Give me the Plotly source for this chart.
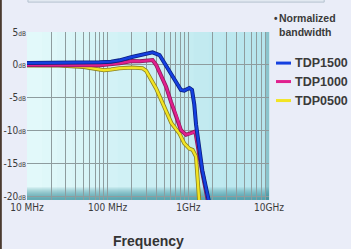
import plotly.graph_objects as go

# ---------------- data ----------------
series_names = ["TDP1500", "TDP1000", "TDP0500"]

freq_1500 = [10, 15, 25, 45, 80, 110, 140, 200, 270, 330, 360, 440, 505, 610, 705, 810, 890, 1030, 1110, 1185, 1245, 1490, 1820]
db_1500 = [0.3, 0.3, 0.3, 0.35, 0.4, 0.5, 0.7, 1.2, 1.5, 1.8, 1.9, 1.5, 0.3, -1.5, -2.8, -3.8, -3.9, -3.5, -3.8, -6.0, -9.0, -16.0, -21.0]

freq_1000 = [10, 25, 45, 80, 140, 200, 250, 330, 360, 400, 460, 530, 610, 705, 810, 935, 1080, 1220, 1490, 1770]
db_1000 = [0.0, 0.0, 0.0, -0.05, 0.25, 0.6, 0.55, 0.7, 0.75, 0.0, -1.6, -3.3, -5.6, -7.6, -9.9, -10.6, -10.4, -10.1, -16.3, -21.0]

freq_0500 = [10, 25, 50, 80, 90, 110, 140, 200, 270, 300, 330, 400, 480, 555, 615, 775, 890, 1030, 1130, 1245, 1300, 1370]
db_0500 = [-0.1, -0.1, -0.3, -0.7, -0.8, -0.7, -0.5, -0.4, -0.5, -0.9, -1.8, -3.6, -5.8, -7.6, -8.8, -10.4, -11.9, -12.7, -12.9, -13.9, -16.9, -21.0]

x_tick_vals = [10, 100, 1000, 10000]
x_tick_text = ["10 MHz", "100 MHz", "1GHz", "10GHz"]
x_minor_vals = [m * d for d in (10, 100, 1000) for m in range(2, 10)]
y_tick_vals = [5, 0, -5, -10, -15, -20]
y_tick_num = ["5", "0", "-5", "-10", "-15", "-20"]

legend_title = "Normalized<br>bandwidth"
x_title = "Frequency"

# ---------------- styling ----------------
colors = ["#1540e0", "#e0208e", "#f2e424"]
edge_colors = ["#0a1f80", "#8a1a5a", "#8a8020"]
label_font = "Liberation Sans Narrow, DejaVu Sans Condensed, Arial Narrow, sans-serif"
bold_font = "Liberation Sans, Arial, Helvetica, sans-serif"

fig = go.Figure()

data = [(freq_0500, db_0500, 2), (freq_1000, db_1000, 1), (freq_1500, db_1500, 0)]
for fx, fy, i in data:
    fig.add_trace(go.Scatter(x=fx, y=fy, mode="lines", name=series_names[i],
                             line=dict(color=edge_colors[i], width=4),
                             showlegend=False, hoverinfo="skip"))
    fig.add_trace(go.Scatter(x=fx, y=fy, mode="lines", name=series_names[i],
                             line=dict(color=colors[i], width=2.4),
                             showlegend=False))

shapes = []
# horizontal gradient of plot background
n = 16
c0 = (226, 249, 250)
c1 = (182, 229, 237)
for k in range(n):
    t = k / (n - 1)
    c = tuple(round(c0[j] + (c1[j] - c0[j]) * t) for j in range(3))
    shapes.append(dict(type="rect", xref="x domain", yref="y domain",
                       x0=k / n, x1=(k + 1) / n + 0.002, y0=0, y1=1,
                       fillcolor="rgb(%d,%d,%d)" % c, line_width=0, layer="below"))
# darker bottom band
for k in range(6):
    shapes.append(dict(type="rect", xref="x domain", yref="y domain",
                       x0=0, x1=1, y0=0, y1=0.075 - k * 0.012,
                       fillcolor="rgba(40,130,140,0.16)", line_width=0, layer="below"))
# darker right edge
shapes.append(dict(type="rect", xref="x domain", yref="y domain",
                   x0=0.984, x1=1, y0=0, y1=1,
                   fillcolor="rgba(40,120,130,0.30)", line_width=0, layer="below"))
# top panel edge
shapes.append(dict(type="rect", xref="paper", yref="paper",
                   x0=0.004, x1=1.228, y0=1.178, y1=1.25,
                   fillcolor="#e2e9f1", line=dict(color="#b4c2cf", width=1)))
# dark left border strip of the picture
shapes.append(dict(type="rect", xref="paper", yref="paper",
                   x0=-0.112, x1=-0.104, y0=-0.3, y1=1.25,
                   fillcolor="#4a3a30", line_width=0))

annotations = []
# legend (manual, short swatches)
legend_y = [0.815, 0.705, 0.592]
for i, name in enumerate(series_names):
    shapes.append(dict(type="line", xref="paper", yref="paper",
                       x0=1.029, x1=1.091, y0=legend_y[i], y1=legend_y[i],
                       line=dict(color=colors[i], width=3)))
    annotations.append(dict(text="<b>%s</b>" % name, xref="paper", yref="paper",
                            x=1.100, y=legend_y[i], xanchor="left", yanchor="middle",
                            showarrow=False, font=dict(family=bold_font, size=12.5, color="#3a3a3a")))
annotations.append(dict(text="<b>•</b>", xref="paper", yref="paper", x=1.012, y=1.078,
                        xanchor="left", yanchor="middle", showarrow=False,
                        font=dict(family=bold_font, size=10, color="#3a3a3a")))
annotations.append(dict(text="<b>%s</b>" % legend_title, xref="paper", yref="paper",
                        x=1.033, y=1.04, xanchor="left", yanchor="middle", align="left",
                        showarrow=False,
                        font=dict(family=bold_font, size=10.5, color="#3a3a3a")))
annotations.append(dict(text="<b>%s</b>" % x_title, xref="paper", yref="paper",
                        x=0.5, y=-0.243, xanchor="center", yanchor="middle",
                        showarrow=False,
                        font=dict(family=bold_font, size=14, color="#333333")))

y_tick_text = ["%s<span style='font-size:6.5px'>dB</span>" % s for s in y_tick_num]

fig.update_layout(
    width=351, height=249,
    margin=dict(l=27, r=82, t=32, b=49),
    paper_bgcolor="#eaedf8",
    plot_bgcolor="#d4f2f5",
    showlegend=False,
    shapes=shapes,
    annotations=annotations,
    xaxis=dict(type="log", range=[1, 4], tickvals=x_tick_vals, ticktext=x_tick_text,
               showgrid=True, gridcolor="#8e9c9e", gridwidth=1.4, automargin=False,
               minor=dict(tickvals=x_minor_vals, showgrid=True, gridcolor="#8e9c9e", gridwidth=1.2),
               ticks="", zeroline=False, showline=False,
               tickfont=dict(family=label_font, size=10, color="#3a3a3a")),
    yaxis=dict(range=[-20.5, 5], tickvals=y_tick_vals, ticktext=y_tick_text,
               showgrid=True, gridcolor="#8e9c9e", gridwidth=1.4, automargin=False,
               ticks="", zeroline=False, showline=False,
               tickfont=dict(family=label_font, size=10, color="#3a3a3a")),
)

fig.write_html("out.html", config={"displayModeBar": False},
               post_script="document.body.style.margin='0';document.body.style.background='#eaedf8';")
